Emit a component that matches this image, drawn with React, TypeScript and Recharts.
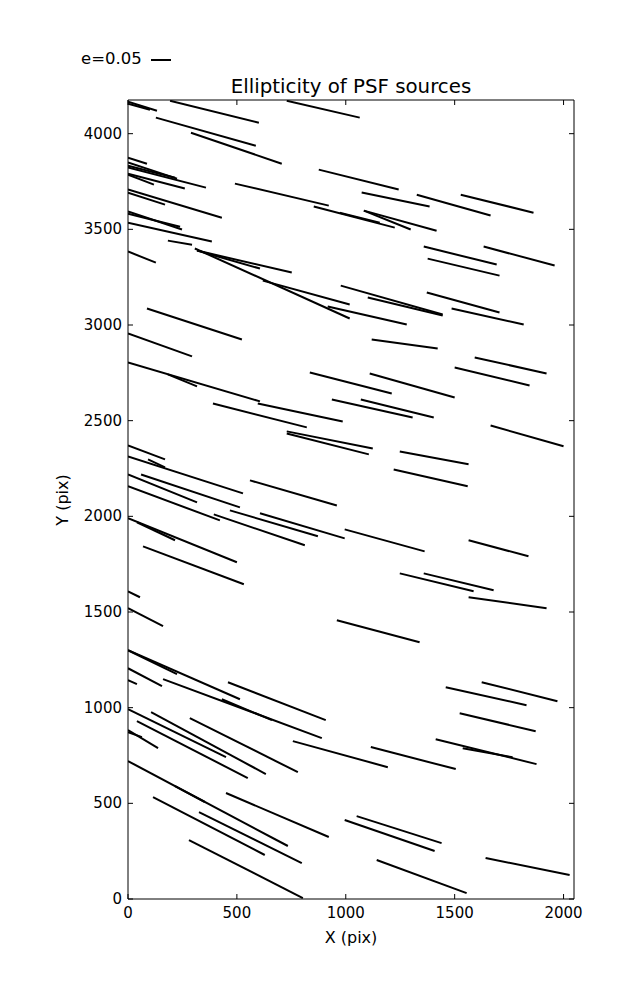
import React from 'react';
import { LineChart, Line, XAxis, YAxis } from 'recharts';

// axis ticks
const xTicks = [0, 500, 1000, 1500, 2000];
const yTicks = [0, 500, 1000, 1500, 2000, 2500, 3000, 3500, 4000];

// whisker segments, detector pixel coordinates (start -> end)
const xStart = [
  0, 0, 193, 729, 128, 289, 0, 0, 0, 0, 0, 0, 491, 876, 853, 972, 0, 0, 0, 0,
  0, 183, 0, 317, 317, 307, 619, 977, 1101, 917, 87, 0, 0, 183, 835, 936, 1069, 390, 596, 729,
  729, 1358, 1633, 1376, 1372, 1486, 1119, 1592, 1500, 1110, 1073, 1326, 1528, 1083, 1083, 0, 0, 92, 60, 0,
  0, 394, 468, 606, 560, 995, 0, 41, 69, 1248, 1220, 1665, 1564, 1248, 1358, 1564, 0, 0, 959, 0,
  0, 0, 0, 161, 431, 459, 0, 106, 41, 284, 0, 0, 757, 0, 115, 326, 450, 280, 995, 1050,
  1142, 1642, 1624, 1459, 1523, 1413, 1537, 1115, 216,
];
const yStart = [
  4167, 4157, 4172, 4172, 4084, 4005, 3875, 3849, 3833, 3823, 3791, 3786, 3739, 3812, 3619, 3587, 3708, 3692, 3593, 3582,
  3535, 3441, 3384, 3389, 3389, 3400, 3232, 3206, 3144, 3097, 3086, 2956, 2804, 2742, 2752, 2611, 2611, 2590, 2590, 2444,
  2433, 3410, 3410, 3347, 3170, 3086, 2924, 2830, 2778, 2747, 3692, 3681, 3681, 3598, 3598, 2371, 2313, 2298, 2219, 2219,
  2157, 2010, 2031, 2016, 2188, 1932, 1990, 1969, 1843, 2339, 2245, 2475, 1875, 1702, 1702, 1577, 1608, 1520, 1457, 1300,
  1300, 1206, 1144, 1149, 1044, 1133, 992, 977, 930, 945, 883, 872, 825, 721, 533, 454, 554, 308, 413, 433,
  204, 214, 1133, 1107, 971, 835, 788, 794, 590,
];
const xEnd = [
  133, 101, 601, 1064, 587, 706, 87, 225, 216, 358, 261, 119, 922, 1243, 1225, 1156, 431, 170, 248, 239,
  385, 294, 128, 752, 606, 1018, 1018, 1445, 1445, 1280, 523, 294, 606, 317, 1211, 1307, 1404, 821, 986, 1124,
  1106, 1693, 1959, 1706, 1706, 1817, 1422, 1922, 1844, 1500, 1385, 1665, 1862, 1417, 1298, 170, 528, 170, 514, 317,
  422, 812, 872, 995, 959, 1362, 500, 216, 532, 1564, 1560, 2000, 1839, 1587, 1679, 1922, 55, 161, 1339, 514,
  225, 156, 41, 890, 661, 908, 450, 633, 550, 780, 138, 64, 1193, 734, 628, 798, 922, 803, 1408, 1440,
  1555, 2028, 1972, 1830, 1872, 1876, 1766, 1505, 353,
];
const yEnd = [
  4120, 4125, 4057, 4084, 3937, 3843, 3843, 3765, 3770, 3718, 3713, 3734, 3624, 3708, 3509, 3535, 3561, 3629, 3499, 3514,
  3436, 3420, 3326, 3274, 3295, 3034, 3107, 3055, 3050, 3003, 2924, 2836, 2601, 2679, 2642, 2517, 2517, 2465, 2496, 2355,
  2324, 3316, 3311, 3258, 3065, 3003, 2877, 2747, 2684, 2621, 3619, 3572, 3587, 3493, 3499, 2298, 2120, 2256, 2047, 2073,
  1979, 1849, 1896, 1885, 2057, 1817, 1760, 1875, 1645, 2272, 2157, 2366, 1791, 1608, 1614, 1520, 1577, 1426, 1342, 1044,
  1175, 1112, 1123, 841, 935, 935, 742, 653, 632, 663, 789, 846, 689, 277, 230, 188, 324, 5, 251, 292,
  31, 125, 1034, 1013, 877, 705, 741, 679, 507,
];

const segments = xStart.map((x, i) => [
  { x, y: yStart[i] },
  { x: xEnd[i], y: yEnd[i] },
]);

const font = '"DejaVu Sans", sans-serif';

const BottomTick = (props: any) => {
  const { x, y, payload } = props;
  return (
    <g>
      <line x1={x} y1={y} x2={x} y2={y - 5} stroke="#000" />
      <text x={x} y={y + 19} textAnchor="middle" fontSize={15} fontFamily={font} fill="#000">
        {payload.value}
      </text>
    </g>
  );
};

const TopTick = (props: any) => {
  const { x, y } = props;
  return <line x1={x} y1={y} x2={x} y2={y + 5} stroke="#000" />;
};

const LeftTick = (props: any) => {
  const { x, y, payload } = props;
  return (
    <g>
      <line x1={x} y1={y} x2={x + 5} y2={y} stroke="#000" />
      <text x={x - 6} y={y + 5} textAnchor="end" fontSize={15} fontFamily={font} fill="#000">
        {payload.value}
      </text>
    </g>
  );
};

const RightTick = (props: any) => {
  const { x, y } = props;
  return <line x1={x} y1={y} x2={x - 5} y2={y} stroke="#000" />;
};

export default function App() {
  return (
    <div style={{ position: 'absolute', left: 0, top: 0, width: 637, height: 1000, background: '#fff', fontFamily: font }}>
      <div style={{ position: 'absolute', left: 81, top: 49, fontSize: 16.5, lineHeight: '20px' }}>e=0.05</div>
      <div style={{ position: 'absolute', left: 151, top: 59, width: 20, height: 2, background: '#000' }} />
      <div style={{ position: 'absolute', left: 0, width: 702, top: 75, textAlign: 'center', fontSize: 19.8, lineHeight: '24px' }}>
        Ellipticity of PSF sources
      </div>
      <div style={{ position: 'absolute', left: 0, width: 702, top: 928, textAlign: 'center', fontSize: 16, lineHeight: '20px' }}>
        X (pix)
      </div>
      <div
        style={{
          position: 'absolute',
          left: 13,
          top: 490,
          width: 100,
          textAlign: 'center',
          fontSize: 16,
          lineHeight: '20px',
          transform: 'rotate(-90deg)',
        }}
      >
        Y (pix)
      </div>
      <LineChart width={637} height={1000} margin={{ top: 90, right: 53, bottom: 71, left: 68 }}>
        <XAxis
          dataKey="x"
          type="number"
          domain={[0, 2048]}
          ticks={xTicks}
          interval={0}
          allowDataOverflow
          height={30}
          tickSize={0}
          tickMargin={0}
          tickLine={false}
          axisLine={{ stroke: '#000' }}
          tick={<BottomTick />}
        />
        <XAxis
          xAxisId="top"
          orientation="top"
          dataKey="x"
          type="number"
          domain={[0, 2048]}
          ticks={xTicks}
          interval={0}
          allowDataOverflow
          height={10}
          tickSize={0}
          tickMargin={0}
          tickLine={false}
          axisLine={{ stroke: '#000' }}
          tick={<TopTick />}
        />
        <YAxis
          type="number"
          domain={[0, 4176]}
          ticks={yTicks}
          interval={0}
          allowDataOverflow
          width={60}
          tickSize={0}
          tickMargin={0}
          tickLine={false}
          axisLine={{ stroke: '#000' }}
          tick={<LeftTick />}
        />
        <YAxis
          yAxisId="right"
          orientation="right"
          type="number"
          domain={[0, 4176]}
          ticks={yTicks}
          interval={0}
          allowDataOverflow
          width={10}
          tickSize={0}
          tickMargin={0}
          tickLine={false}
          axisLine={{ stroke: '#000' }}
          tick={<RightTick />}
        />
        {segments.map((seg, i) => (
          <Line
            key={i}
            data={seg}
            dataKey="y"
            stroke="#000"
            strokeWidth={2}
            dot={false}
            activeDot={false}
            isAnimationActive={false}
          />
        ))}
      </LineChart>
    </div>
  );
}
